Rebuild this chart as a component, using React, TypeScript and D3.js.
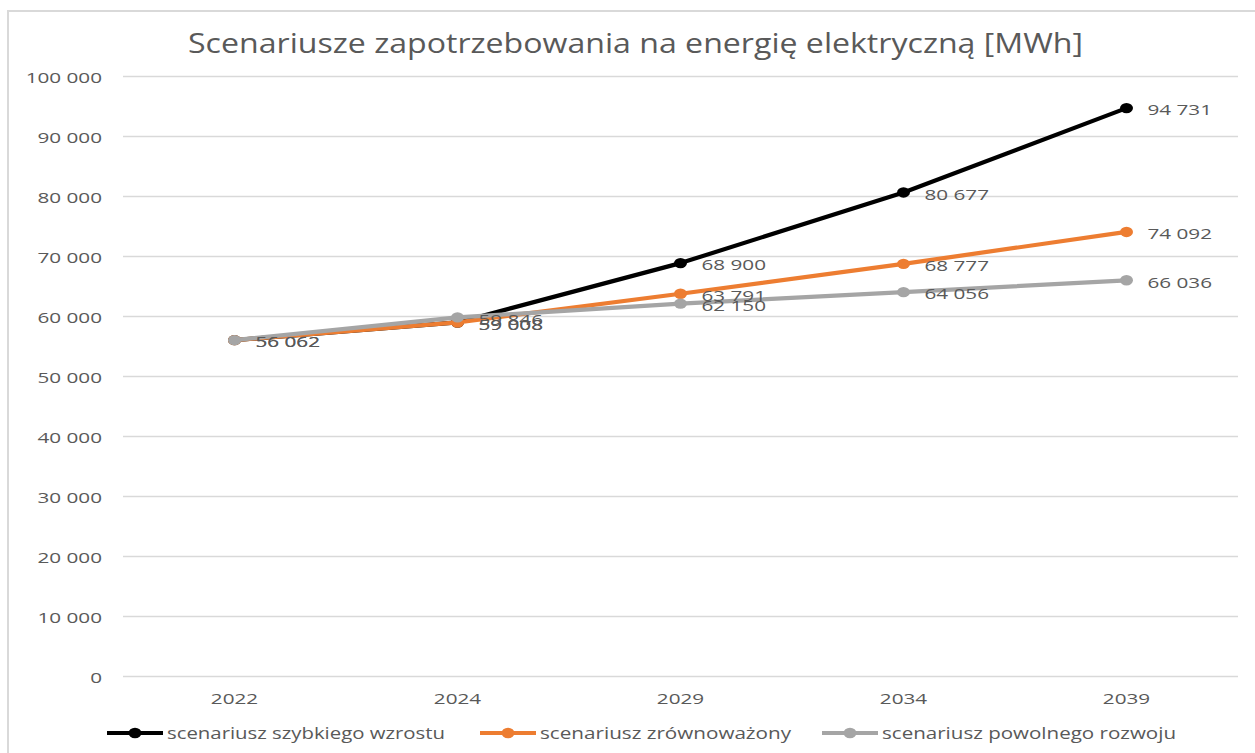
import React from "react";
import * as d3 from "d3";

const years = ["2022", "2024", "2029", "2034", "2039"];
const fastGrowth = [56062, 59008, 68900, 80677, 94731];
const balanced = [56062, 59008, 63791, 68777, 74092];
const slowGrowth = [56062, 59846, 62150, 64056, 66036];
const yTicks = [0, 10000, 20000, 30000, 40000, 50000, 60000, 70000, 80000, 90000, 100000];

const seriesNames = ["scenariusz szybkiego wzrostu", "scenariusz zrównoważony", "scenariusz powolnego rozwoju"];
const seriesColors = ["#000000", "#ED7D31", "#A5A5A5"];
const seriesData = [fastGrowth, balanced, slowGrowth];
const legendTextWidths = [278, 251, 294];
const legendX = [107, 480, 822];

const W = 1255;
const H = 753;
const FONT = "'Open Sans', 'DejaVu Sans', sans-serif";
const TXT = "#595959";
const SX = 1.38;

const fmt = (v: number) => {
  const s = Math.round(v).toString();
  return s.replace(/\B(?=(\d{3})+(?!\d))/g, " ");
};

function StretchText({ x, y, anchor, children, size = 15, fill = TXT }: any) {
  return (
    <text
      transform={`translate(${x},${y}) scale(${SX},1)`}
      textAnchor={anchor}
      dominantBaseline="central"
      fontFamily={FONT}
      fontSize={size}
      fill={fill}
    >
      {children}
    </text>
  );
}

export default function App() {
  const x = d3.scaleBand<string>().domain(years).range([123, 1238]);
  const y = d3.scaleLinear().domain([0, 100000]).range([676.5, 76.5]);
  const cx = (yr: string) => (x(yr) as number) + x.bandwidth() / 2;

  const line = d3
    .line<number>()
    .x((_, i) => cx(years[i]))
    .y((d) => y(d));

  return (
    <svg width={W} height={H} style={{ position: "absolute", left: 0, top: 0, background: "#fff" }}>
      <rect x={8} y={11} width={1400} height={900} fill="#fff" stroke="#d9d9d9" strokeWidth={2} />
      <text
        x={188}
        y={53}
        textLength={895}
        lengthAdjust="spacingAndGlyphs"
        fontFamily={FONT}
        fontSize={27}
        fill={TXT}
      >
        Scenariusze zapotrzebowania na energię elektryczną [MWh]
      </text>

      {yTicks.map((t) => (
        <g key={t}>
          <line x1={123} x2={1238} y1={y(t)} y2={y(t)} stroke="#d9d9d9" strokeWidth={1.3} />
          <StretchText x={102} y={y(t) + 0.5} anchor="end">
            {fmt(t)}
          </StretchText>
        </g>
      ))}

      {years.map((yr) => (
        <StretchText key={yr} x={cx(yr)} y={698} anchor="middle">
          {yr}
        </StretchText>
      ))}

      {seriesData.map((data, si) => (
        <g key={si}>
          <path d={line(data) || ""} fill="none" stroke={seriesColors[si]} strokeWidth={4.2} strokeLinejoin="round" />
          {data.map((v, i) => (
            <ellipse key={i} cx={cx(years[i])} cy={y(v)} rx={6.5} ry={5.2} fill={seriesColors[si]} />
          ))}
        </g>
      ))}

      {seriesData.map((data, si) => (
        <g key={"l" + si}>
          {data.map((v, i) =>
            si === 0 && i === 0 ? null : (
              <StretchText key={i} x={cx(years[i]) + 21} y={y(v) + 1.5} anchor="start">
                {fmt(v)}
              </StretchText>
            )
          )}
        </g>
      ))}

      {seriesNames.map((name, si) => (
        <g key={name}>
          <line x1={legendX[si]} x2={legendX[si] + 56} y1={733} y2={733} stroke={seriesColors[si]} strokeWidth={4.2} />
          <ellipse cx={legendX[si] + 28} cy={733} rx={6.5} ry={5.2} fill={seriesColors[si]} />
          <text
            x={legendX[si] + 60}
            y={733}
            dominantBaseline="central"
            textLength={legendTextWidths[si]}
            lengthAdjust="spacingAndGlyphs"
            fontFamily={FONT}
            fontSize={16}
            fill={TXT}
          >
            {name}
          </text>
        </g>
      ))}
    </svg>
  );
}
